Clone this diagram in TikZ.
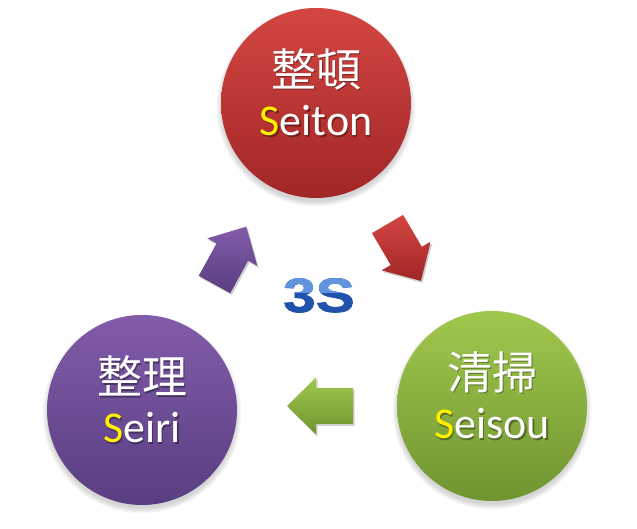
\documentclass[tikz,border=0pt]{standalone}
\usepackage{fontspec}
\setmainfont{Carlito}
\newfontfamily\cjk{Noto Sans CJK JP}
\newfontfamily\threesfont[FakeStretch=1.22,FakeBold=1.5]{Liberation Sans Bold}
\definecolor{redtop}{RGB}{212,70,66}
\definecolor{redbot}{RGB}{160,38,38}
\definecolor{purtop}{RGB}{130,92,170}
\definecolor{purbot}{RGB}{88,62,128}
\definecolor{grntop}{RGB}{160,200,78}
\definecolor{grnbot}{RGB}{112,148,48}
\definecolor{sblue}{RGB}{32,82,172}
\definecolor{sbluelight}{RGB}{98,148,222}
\definecolor{syellow}{RGB}{255,240,0}
\newcommand\myarrowshape{(0,-18)--(37,-18)--(37,-28.5)--(66,0)--(37,28.5)--(37,18)--(0,18)--cycle}
\begin{document}
\begin{tikzpicture}[x=1pt,y=1pt,
  ball/.style={circle,minimum size=190pt,inner sep=0pt,shading=axis},
  kanji/.style={font=\cjk\fontsize{45}{45}\selectfont,text=white,inner sep=0pt},
  roman/.style={font=\fontsize{44}{44}\selectfont,text=white,inner sep=0pt,anchor=base},
  tshadow/.style={text=black,opacity=0.35}]
\useasboundingbox (0,0) rectangle (637,529);
% soft shadows
\foreach \cx/\cy in {316/426,142/119,492/123}{
  \foreach \k in {0,2,4,6,8}{
    \fill[black,opacity=0.035] (\cx,\cy-4) circle (94.5+\k*0.6);
  }
}
% circles
\node[ball,top color=redtop,bottom color=redbot] (seiton) at (316,426) {};
\node[ball,top color=purtop,bottom color=purbot] (seiri) at (142,119) {};
\node[ball,top color=grntop,bottom color=grnbot] (seisou) at (492,123) {};
% texts
\foreach \nm/\cx/\cy/\kj/\rm in {a/316/426/整頓/eiton,b/142/119/整理/eiri,c/492/123/清掃/eisou}{
  \node[kanji,tshadow] at (\cx+1.5,\cy+34-1.5) {\kj};
  \node[kanji] (k\nm) at (\cx,\cy+34) {\kj};
  \node[roman,tshadow] at (\cx+1.5,\cy-33-1.5) {S\rm};
  \node[roman] (r\nm) at (\cx,\cy-33) {\textcolor{syellow}{S}\rm};
}
% arrows
\foreach \tx/\ty/\ang/\ca/\cb in {387.5/305/-59.6/redtop/redbot,214.5/244.5/61.2/purtop/purbot,353/123/180/grntop/grnbot}{
  \begin{scope}[shift={(\tx+1.5,\ty-2)},rotate=\ang]
    \fill[black,opacity=0.18] \myarrowshape;
  \end{scope}
  \begin{scope}[shift={(\tx,\ty)},rotate=\ang]
    \path[top color=\ca,bottom color=\cb] \myarrowshape;
  \end{scope}
}
% 3S
\node[font=\threesfont\fontsize{48}{48}\selectfont,text=sblue,inner sep=0pt,anchor=base] (three) at (319,217) {3S};
\begin{scope}
  \clip (270,236) rectangle (370,260);
  \node[font=\threesfont\fontsize{48}{48}\selectfont,text=sbluelight,inner sep=0pt,anchor=base] at (319,217) {3S};
\end{scope}
\end{tikzpicture}
\end{document}
